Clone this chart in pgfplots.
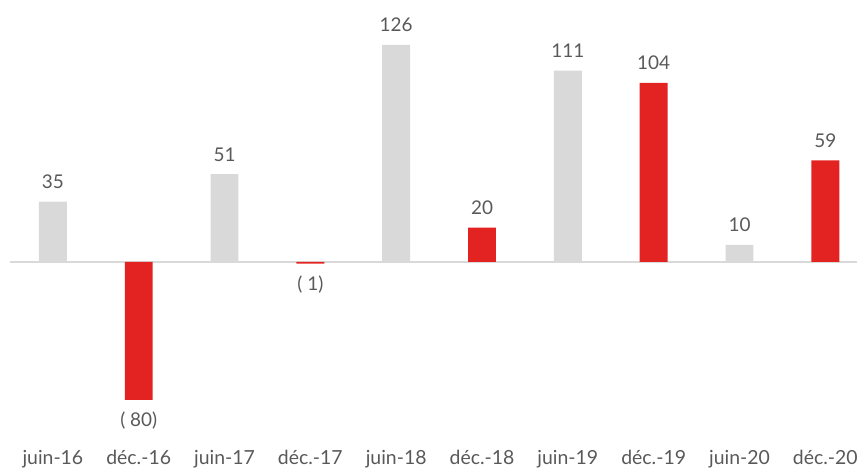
\documentclass[border=0pt]{standalone}
\usepackage{pgfplots}
\pgfplotsset{compat=1.18}
\usepackage{fontspec}
\setmainfont{Lato}
\definecolor{gbar}{HTML}{D9D9D9}
\definecolor{rbar}{HTML}{E32322}
\definecolor{txt}{HTML}{595959}
\begin{document}
\begin{tikzpicture}
\begin{axis}[
  scale only axis,
  width=861bp, height=468bp,
  xmin=-0.616, xmax=9.374,
  ymin=-118.5, ymax=152,
  axis line style={draw=none},
  major tick length=0pt,
  ytick=\empty,
  xtick={0,...,9},
  xticklabels={juin-16,déc.-16,juin-17,déc.-17,juin-18,déc.-18,juin-19,déc.-19,juin-20,déc.-20},
  xticklabel style={font=\fontsize{19.5bp}{21bp}\selectfont, text=txt, anchor=base, yshift=2bp},
  typeset ticklabels with strut,
  ybar, bar width=28bp, bar shift=0pt,
  clip=false,
  nodes near coords,
  point meta=explicit symbolic,
  every node near coord/.append style={font=\fontsize{19bp}{21bp}\selectfont, text=txt},
]
\draw[gbar, line width=2bp] (axis cs:-0.5,0) -- (axis cs:9.374,0);
\addplot[fill=gbar, draw=none, nodes near coords style={anchor=base, yshift=13bp}] table[meta=lab] {
x y lab
0 35 35
2 51 51
4 126 126
6 111 111
8 10 10
};
\addplot[fill=rbar, draw=none, nodes near coords style={anchor=base, yshift=13bp}] table[meta=lab] {
x y lab
5 20 20
7 104 104
9 59 59
};
\addplot[fill=rbar, draw=none, nodes near coords style={anchor=base, yshift=-27bp}] table[meta=lab] {
x y lab
1 -80 {( 80)}
3 -1 {( 1)}
};
\end{axis}
\end{tikzpicture}
\end{document}
